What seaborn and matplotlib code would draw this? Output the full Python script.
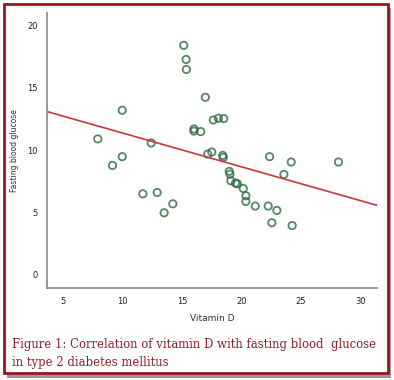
import numpy as np
import pandas as pd
import matplotlib
matplotlib.use("Agg")
import matplotlib.pyplot as plt
import seaborn as sns
from matplotlib.patches import Rectangle

# 读图估计的数据
vitamin_d = [7.9, 9.96, 9.14, 9.96, 12.4, 15.14, 15.34, 15.36,
             16.0, 16.0, 16.57, 16.96, 17.63, 18.05, 18.5,
             17.16, 17.5, 18.42, 18.47, 22.37, 24.19, 28.17, 23.57,
             18.97, 19.03, 19.1, 19.5, 19.65, 20.15, 20.37, 20.37,
             21.16, 22.25, 22.98, 22.56, 24.27,
             11.7, 12.9, 14.22, 13.49]
glucose = [10.9, 13.2, 8.78, 9.48, 10.58, 18.4, 17.27, 16.47,
           11.7, 11.53, 11.49, 14.24, 12.42, 12.56, 12.53,
           9.69, 9.85, 9.58, 9.42, 9.48, 9.05, 9.05, 8.06,
           8.3, 8.08, 7.55, 7.36, 7.31, 6.93, 6.35, 5.89,
           5.52, 5.52, 5.17, 4.18, 3.96,
           6.5, 6.61, 5.7, 4.98]
x_ticks = [5, 10, 15, 20, 25, 30]
y_ticks = [0, 5, 10, 15, 20]

df = pd.DataFrame({"Vitamin D": vitamin_d, "glucose": glucose})

sns.set_style("white")
plt.rcParams['font.family'] = ['DejaVu Sans']

fig = plt.figure(figsize=(3.94, 3.80), dpi=100)
ax = fig.add_axes([0.1185, 0.242, 0.838, 0.724])
ax.set_xlim(3.6, 31.4)
ax.set_ylim(-1.05, 21)

sns.regplot(data=df, x="Vitamin D", y="glucose", ax=ax, ci=None, truncate=False,
            scatter_kws=dict(s=28, facecolors='none', edgecolors='#2b6b3e', linewidths=1.3),
            line_kws=dict(color='#c8373d', lw=1.2))

ax.set_xticks(x_ticks)
ax.set_yticks(y_ticks)
ax.tick_params(labelsize=6, length=3, width=0.8, colors='#777777', labelcolor='#222222')
for s in ['top', 'right']:
    ax.spines[s].set_visible(False)
for s in ['left', 'bottom']:
    ax.spines[s].set_color('#888888')
    ax.spines[s].set_linewidth(1.2)
ax.set_xlabel("Vitamin D", fontsize=6.5, color='#333333', labelpad=6)
ax.set_ylabel("Fasting blood glucose", fontsize=5.5, color='#333333')
ax.yaxis.set_label_coords(-0.085, 0.5)

# 外框和阴影
fig.patches.append(Rectangle((0.018, 0.005), 0.975, 0.975, transform=fig.transFigure,
                             facecolor='#999999', edgecolor='none', zorder=-2))
fig.patches.append(Rectangle((0.01, 0.018), 0.975, 0.972, transform=fig.transFigure,
                             facecolor='white', edgecolor='#9b1420', lw=2, zorder=-1))

fig.text(0.03, 0.083, "Figure 1: Correlation of vitamin D with fasting blood  glucose",
         family='DejaVu Serif', fontsize=8.4, color='#8e1f2d')
fig.text(0.03, 0.037, "in type 2 diabetes mellitus",
         family='DejaVu Serif', fontsize=8.4, color='#8e1f2d')

fig.savefig("out.png", dpi=100)
